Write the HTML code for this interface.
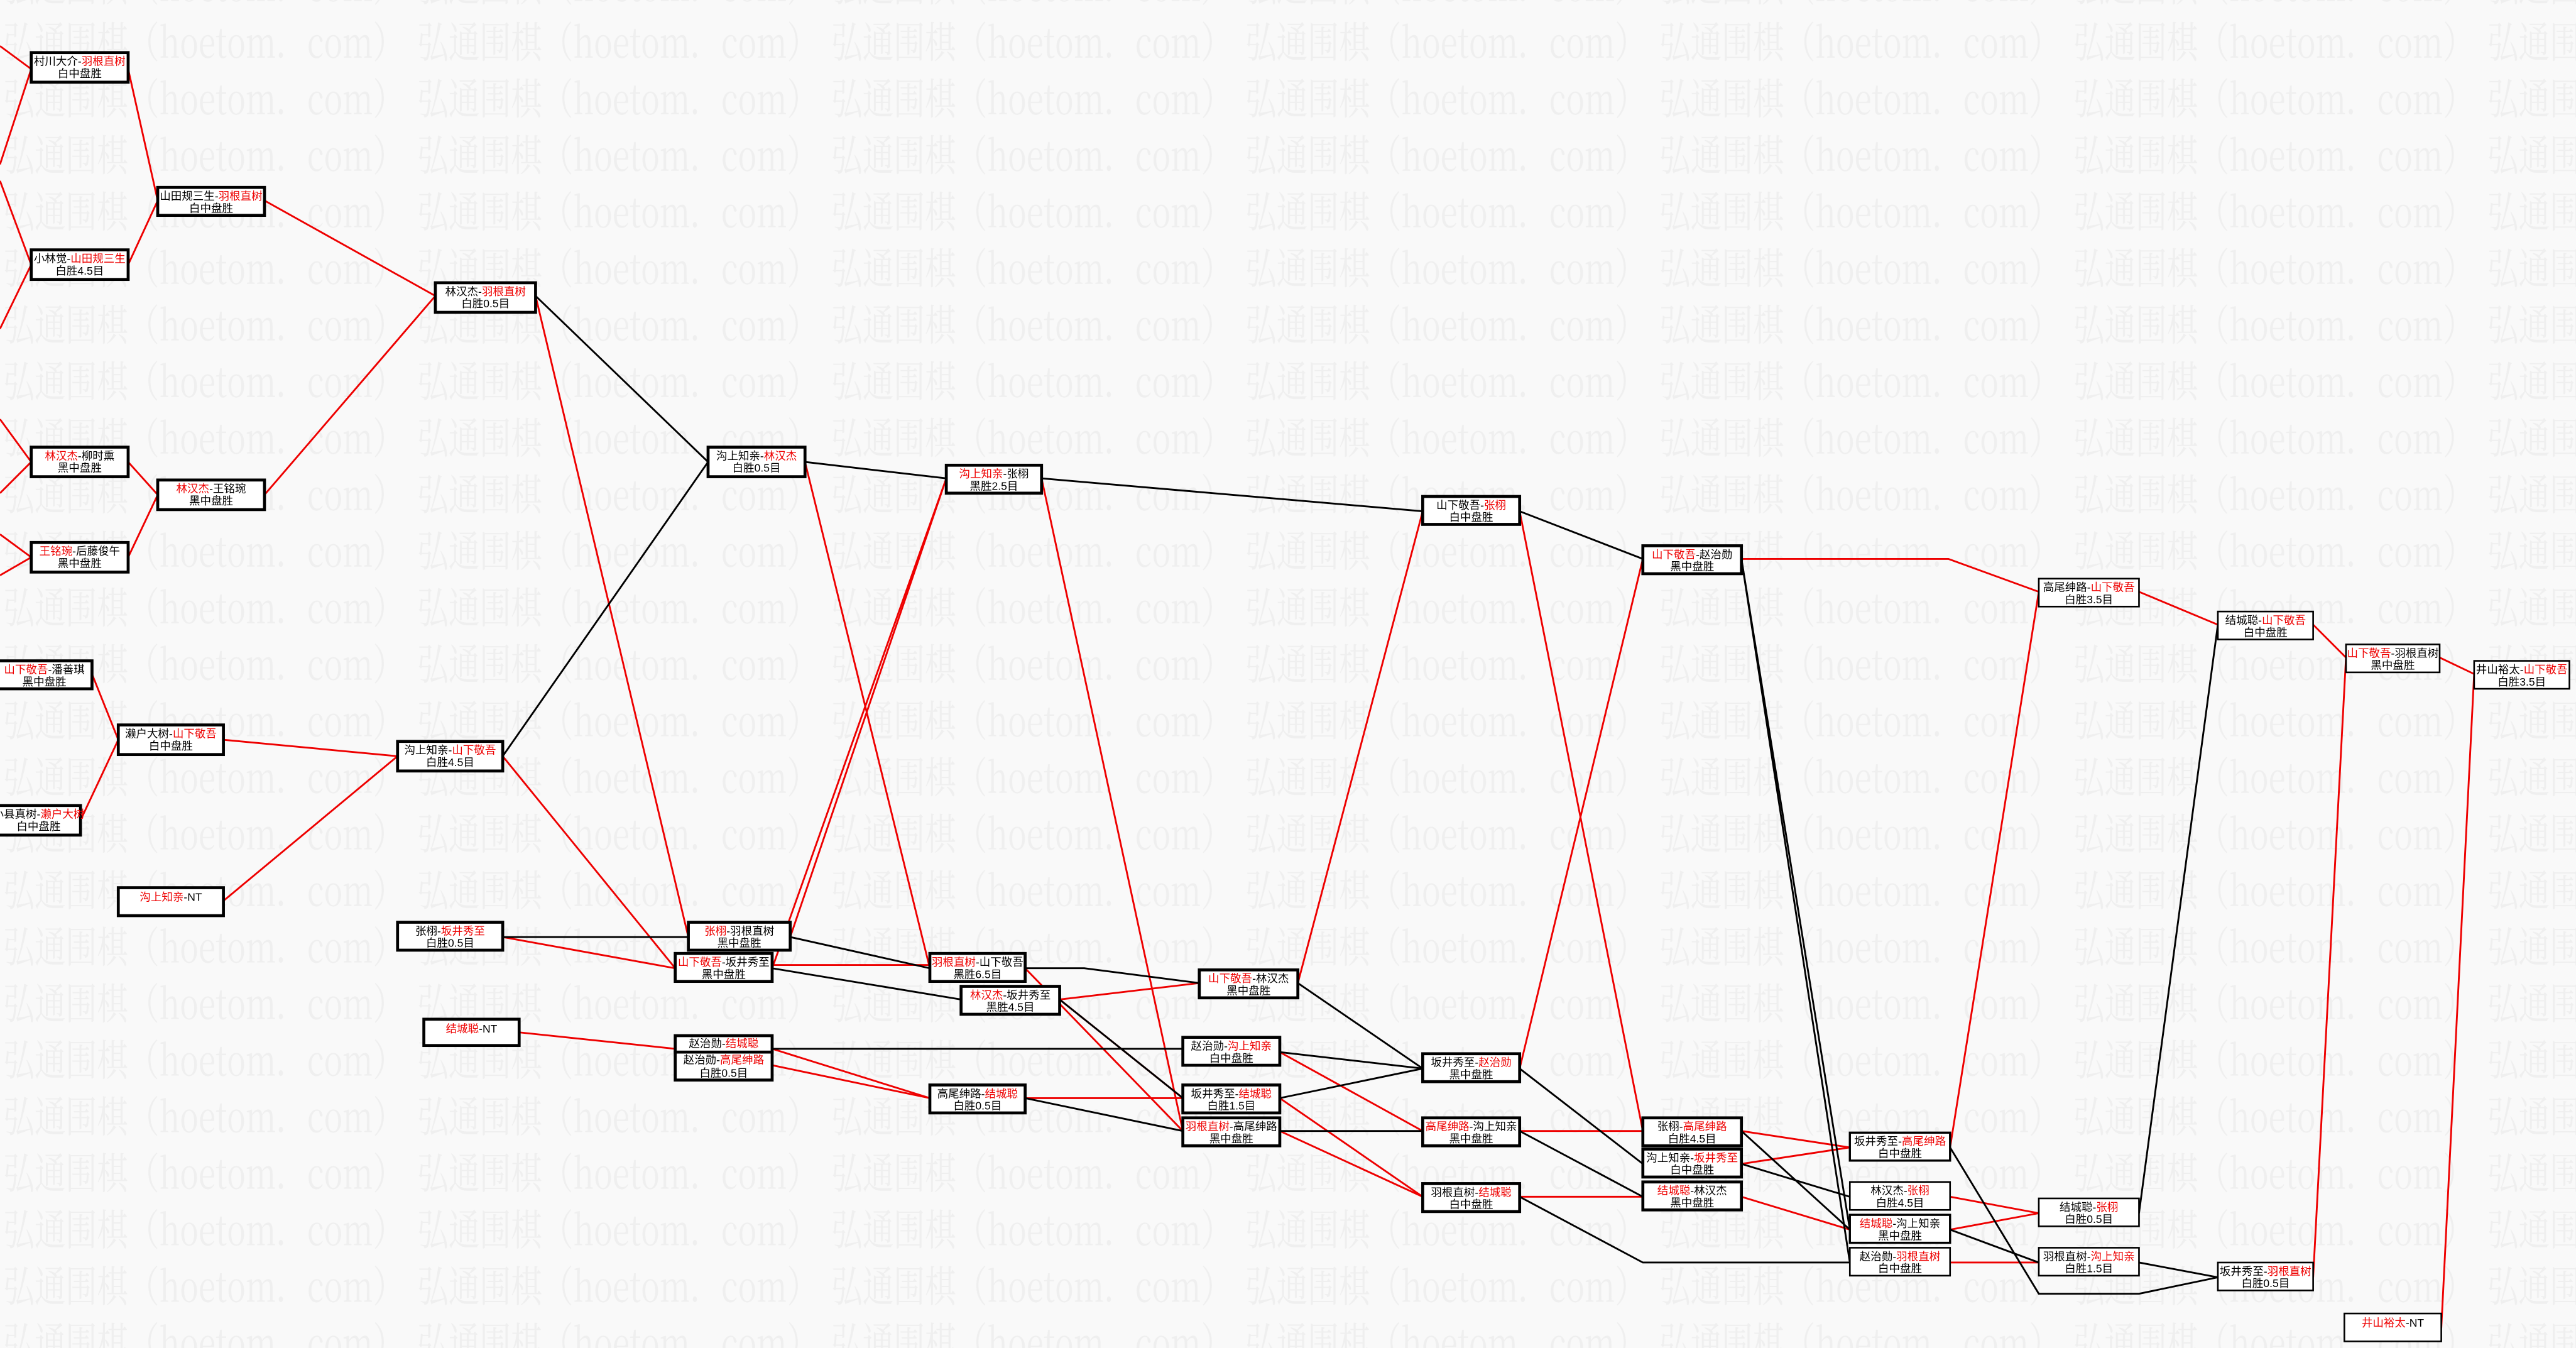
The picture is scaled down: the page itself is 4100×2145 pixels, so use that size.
<!DOCTYPE html>
<html><head><meta charset="utf-8"><style>
html,body{margin:0;padding:0;background:#f9f9f9;}
svg{display:block}
.b rect{fill:#fff;stroke:#000;stroke-width:1.8}
.t{font-family:"Liberation Sans","Noto Sans CJK SC",sans-serif;font-size:6.7px;text-anchor:middle;fill:#000}
.r{fill:#e00}
.k line,.k polyline{stroke:#000;stroke-width:1.1;fill:none}
.d line,.d polyline{stroke:#e00;stroke-width:1.1;fill:none}
.w{font-family:"Noto Serif CJK SC","Noto Sans CJK SC",serif;font-size:26px;fill:#efefef}
</style></head><body>
<svg width="4100" height="2145" viewBox="0 0 1568 820" preserveAspectRatio="none" xmlns="http://www.w3.org/2000/svg">
<defs>
<pattern id="wm" patternUnits="userSpaceOnUse" x="0" y="7" width="252" height="34.4">
<text class="w" x="2" y="28" textLength="244" lengthAdjust="spacingAndGlyphs">弘通围棋（hoetom．com）</text>
</pattern>
</defs>
<rect width="1568" height="820" fill="#f9f9f9"/>
<rect width="1568" height="820" fill="url(#wm)"/>
<g class="d">
<line x1="0" y1="28" x2="19" y2="42"/><line x1="0" y1="100" x2="19" y2="42"/>
<line x1="0" y1="110" x2="19" y2="161"/><line x1="0" y1="200" x2="19" y2="161"/>
<line x1="78" y1="42" x2="96" y2="122"/><line x1="78" y1="161" x2="96" y2="122"/>
<line x1="161" y1="122" x2="265" y2="180"/>
<line x1="0" y1="255" x2="19" y2="281"/><line x1="0" y1="300" x2="19" y2="281"/>
<line x1="0" y1="325" x2="19" y2="339"/><line x1="0" y1="350" x2="19" y2="339"/>
<line x1="78" y1="281" x2="96" y2="301"/><line x1="78" y1="339" x2="96" y2="301"/>
<line x1="161" y1="301" x2="265" y2="180"/>
<line x1="56" y1="410" x2="72" y2="450"/><line x1="49" y1="499" x2="72" y2="450"/>
<line x1="136" y1="450" x2="242" y2="460"/><line x1="136" y1="548" x2="242" y2="460"/>
<line x1="326" y1="180" x2="419" y2="570"/>
<line x1="306" y1="460" x2="411" y2="589"/>
<line x1="306" y1="570" x2="411" y2="589"/>
<line x1="481" y1="570" x2="576" y2="291"/>
<line x1="470" y1="589" x2="576" y2="291"/>
<line x1="490" y1="281" x2="566" y2="589"/>
<line x1="470" y1="587" x2="566" y2="587"/>
<line x1="634" y1="291" x2="720" y2="688"/>
<line x1="645" y1="608" x2="730" y2="598"/>
<line x1="645" y1="608" x2="720" y2="668"/><line x1="624" y1="589" x2="720" y2="688"/>
<line x1="316" y1="628" x2="411" y2="638"/>
<line x1="411" y1="636" x2="470" y2="648"/>
<line x1="470" y1="638" x2="566" y2="668"/><line x1="470" y1="648" x2="566" y2="668"/>
<line x1="624" y1="668" x2="720" y2="668"/>
<line x1="790" y1="598" x2="866" y2="311"/>
<line x1="779" y1="640" x2="866" y2="688"/>
<line x1="779" y1="668" x2="866" y2="728"/>
<line x1="779" y1="688" x2="866" y2="728"/>
<line x1="925" y1="311" x2="1000" y2="688"/>
<line x1="925" y1="650" x2="1000" y2="340"/>
<line x1="925" y1="688" x2="1000" y2="688"/>
<line x1="925" y1="728" x2="1000" y2="728"/>
<polyline points="1060,340 1186,340 1241,360"/>
<line x1="1060" y1="688" x2="1126" y2="698"/>
<line x1="1060" y1="708" x2="1126" y2="698"/>
<line x1="1060" y1="728" x2="1126" y2="748"/>
<line x1="1187" y1="698" x2="1241" y2="360"/>
<line x1="1187" y1="728" x2="1241" y2="738"/><line x1="1187" y1="748" x2="1241" y2="738"/>
<line x1="1187" y1="768" x2="1241" y2="768"/>
<line x1="1302" y1="360" x2="1350" y2="380"/>
<line x1="1408" y1="380" x2="1428" y2="400"/><line x1="1408" y1="777" x2="1428" y2="400"/>
<line x1="1485" y1="400" x2="1506" y2="410"/><line x1="1486" y1="808" x2="1506" y2="410"/>
</g>
<g class="k">
<line x1="326" y1="180" x2="431" y2="281"/>
<line x1="306" y1="460" x2="431" y2="281"/>
<line x1="306" y1="570" x2="419" y2="570"/>
<line x1="490" y1="281" x2="576" y2="291"/>
<line x1="481" y1="570" x2="566" y2="589"/>
<line x1="470" y1="589" x2="585" y2="608"/>
<line x1="634" y1="291" x2="866" y2="311"/>
<polyline points="624,589 660,589 730,598"/>
<line x1="470" y1="638" x2="720" y2="638"/>
<line x1="624" y1="668" x2="720" y2="688"/>
<line x1="645" y1="608" x2="720" y2="668"/>
<line x1="790" y1="598" x2="866" y2="650"/>
<line x1="779" y1="640" x2="866" y2="650"/>
<line x1="779" y1="668" x2="866" y2="650"/>
<line x1="779" y1="688" x2="866" y2="688"/>
<line x1="925" y1="311" x2="1000" y2="340"/>
<line x1="925" y1="650" x2="1000" y2="708"/>
<line x1="925" y1="688" x2="1000" y2="728"/>
<polyline points="925,728 1000,768 1126,768"/>
<line x1="1060" y1="340" x2="1126" y2="748"/>
<line x1="1060" y1="340" x2="1126" y2="768"/>
<line x1="1060" y1="688" x2="1126" y2="748"/>
<line x1="1060" y1="708" x2="1126" y2="728"/>
<polyline points="1187,698 1241,787 1302,787 1350,777"/>
<line x1="1187" y1="748" x2="1241" y2="768"/>
<line x1="1302" y1="738" x2="1350" y2="380"/>
<line x1="1302" y1="768" x2="1350" y2="777"/>
</g>
<g class="b">
<g transform="translate(19,32)"><rect width="59" height="18"/><text class="t" x="29.5" y="7.6">村川大介-<tspan class="r">羽根直树</tspan></text><text class="t" x="29.5" y="15">白中盘胜</text></g>
<g transform="translate(96,114)"><rect width="65" height="17"/><text class="t" x="32.5" y="7.6">山田规三生-<tspan class="r">羽根直树</tspan></text><text class="t" x="32.5" y="15">白中盘胜</text></g>
<g transform="translate(19,152)"><rect width="59" height="18"/><text class="t" x="29.5" y="7.6">小林觉-<tspan class="r">山田规三生</tspan></text><text class="t" x="29.5" y="15">白胜4.5目</text></g>
<g transform="translate(265,172)"><rect width="61" height="18"/><text class="t" x="30.5" y="7.6">林汉杰-<tspan class="r">羽根直树</tspan></text><text class="t" x="30.5" y="15">白胜0.5目</text></g>
<g transform="translate(19,272)"><rect width="59" height="18"/><text class="t" x="29.5" y="7.6"><tspan class="r">林汉杰</tspan>-柳时熏</text><text class="t" x="29.5" y="15">黑中盘胜</text></g>
<g transform="translate(96,292)"><rect width="65" height="18"/><text class="t" x="32.5" y="7.6"><tspan class="r">林汉杰</tspan>-王铭琬</text><text class="t" x="32.5" y="15">黑中盘胜</text></g>
<g transform="translate(19,330)"><rect width="59" height="18"/><text class="t" x="29.5" y="7.6"><tspan class="r">王铭琬</tspan>-后藤俊午</text><text class="t" x="29.5" y="15">黑中盘胜</text></g>
<g transform="translate(-2,402)"><rect width="58" height="17"/><text class="t" x="29" y="7.6"><tspan class="r">山下敬吾</tspan>-潘善琪</text><text class="t" x="29" y="15">黑中盘胜</text></g>
<g transform="translate(72,441)"><rect width="64" height="18"/><text class="t" x="32" y="7.6">濑户大树-<tspan class="r">山下敬吾</tspan></text><text class="t" x="32" y="15">白中盘胜</text></g>
<g transform="translate(-2,490)"><rect width="51" height="18"/><text class="t" x="25.5" y="7.6">小县真树-<tspan class="r">濑户大树</tspan></text><text class="t" x="25.5" y="15">白中盘胜</text></g>
<g transform="translate(72,540)"><rect width="64" height="17"/><text class="t" x="32" y="8"><tspan class="r">沟上知亲</tspan>-NT</text></g>
<g transform="translate(242,451)"><rect width="64" height="18"/><text class="t" x="32" y="7.6">沟上知亲-<tspan class="r">山下敬吾</tspan></text><text class="t" x="32" y="15">白胜4.5目</text></g>
<g transform="translate(431,272)"><rect width="59" height="18"/><text class="t" x="29.5" y="7.6">沟上知亲-<tspan class="r">林汉杰</tspan></text><text class="t" x="29.5" y="15">白胜0.5目</text></g>
<g transform="translate(576,283)"><rect width="58" height="17"/><text class="t" x="29" y="7.6"><tspan class="r">沟上知亲</tspan>-张栩</text><text class="t" x="29" y="15">黑胜2.5目</text></g>
<g transform="translate(866,302)"><rect width="59" height="17"/><text class="t" x="29.5" y="7.6">山下敬吾-<tspan class="r">张栩</tspan></text><text class="t" x="29.5" y="15">白中盘胜</text></g>
<g transform="translate(1000,332)"><rect width="60" height="17"/><text class="t" x="30" y="7.6"><tspan class="r">山下敬吾</tspan>-赵治勋</text><text class="t" x="30" y="15">黑中盘胜</text></g>
<g transform="translate(1241,352)"><rect width="61" height="17" style="stroke-width:1"/><text class="t" x="30.5" y="7.6">高尾绅路-<tspan class="r">山下敬吾</tspan></text><text class="t" x="30.5" y="15">白胜3.5目</text></g>
<g transform="translate(1350,372)"><rect width="58" height="17" style="stroke-width:1"/><text class="t" x="29" y="7.6">结城聪-<tspan class="r">山下敬吾</tspan></text><text class="t" x="29" y="15">白中盘胜</text></g>
<g transform="translate(1428,392)"><rect width="57" height="17" style="stroke-width:1"/><text class="t" x="28.5" y="7.6"><tspan class="r">山下敬吾</tspan>-羽根直树</text><text class="t" x="28.5" y="15">黑中盘胜</text></g>
<g transform="translate(1506,402)"><rect width="58" height="17" style="stroke-width:1"/><text class="t" x="29" y="7.6">井山裕太-<tspan class="r">山下敬吾</tspan></text><text class="t" x="29" y="15">白胜3.5目</text></g>
<g transform="translate(242,561)"><rect width="64" height="17"/><text class="t" x="32" y="7.6">张栩-<tspan class="r">坂井秀至</tspan></text><text class="t" x="32" y="15">白胜0.5目</text></g>
<g transform="translate(419,561)"><rect width="62" height="17"/><text class="t" x="31" y="7.6"><tspan class="r">张栩</tspan>-羽根直树</text><text class="t" x="31" y="15">黑中盘胜</text></g>
<g transform="translate(411,580)"><rect width="59" height="17"/><text class="t" x="29.5" y="7.6"><tspan class="r">山下敬吾</tspan>-坂井秀至</text><text class="t" x="29.5" y="15">黑中盘胜</text></g>
<g transform="translate(566,580)"><rect width="58" height="17"/><text class="t" x="29" y="7.6"><tspan class="r">羽根直树</tspan>-山下敬吾</text><text class="t" x="29" y="15">黑胜6.5目</text></g>
<g transform="translate(585,600)"><rect width="60" height="17"/><text class="t" x="30" y="7.6"><tspan class="r">林汉杰</tspan>-坂井秀至</text><text class="t" x="30" y="15">黑胜4.5目</text></g>
<g transform="translate(730,590)"><rect width="60" height="17"/><text class="t" x="30" y="7.6"><tspan class="r">山下敬吾</tspan>-林汉杰</text><text class="t" x="30" y="15">黑中盘胜</text></g>
<g transform="translate(258,620)"><rect width="58" height="16"/><text class="t" x="29" y="8"><tspan class="r">结城聪</tspan>-NT</text></g>
<g transform="translate(411,640)"><rect width="59" height="17"/><text class="t" x="29.5" y="7">赵治勋-<tspan class="r">高尾绅路</tspan></text><text class="t" x="29.5" y="15">白胜0.5目</text></g>
<g transform="translate(411,630)"><rect width="59" height="10" style="fill:#fff"/><text class="t" x="29.5" y="7">赵治勋-<tspan class="r">结城聪</tspan></text></g>
<g transform="translate(566,660)"><rect width="58" height="17"/><text class="t" x="29" y="7.6">高尾绅路-<tspan class="r">结城聪</tspan></text><text class="t" x="29" y="15">白胜0.5目</text></g>
<g transform="translate(720,631)"><rect width="59" height="17"/><text class="t" x="29.5" y="7.6">赵治勋-<tspan class="r">沟上知亲</tspan></text><text class="t" x="29.5" y="15">白中盘胜</text></g>
<g transform="translate(720,660)"><rect width="59" height="17"/><text class="t" x="29.5" y="7.6">坂井秀至-<tspan class="r">结城聪</tspan></text><text class="t" x="29.5" y="15">白胜1.5目</text></g>
<g transform="translate(720,680)"><rect width="59" height="17"/><text class="t" x="29.5" y="7.6"><tspan class="r">羽根直树</tspan>-高尾绅路</text><text class="t" x="29.5" y="15">黑中盘胜</text></g>
<g transform="translate(866,641)"><rect width="59" height="17"/><text class="t" x="29.5" y="7.6">坂井秀至-<tspan class="r">赵治勋</tspan></text><text class="t" x="29.5" y="15">黑中盘胜</text></g>
<g transform="translate(866,680)"><rect width="59" height="17"/><text class="t" x="29.5" y="7.6"><tspan class="r">高尾绅路</tspan>-沟上知亲</text><text class="t" x="29.5" y="15">黑中盘胜</text></g>
<g transform="translate(866,720)"><rect width="59" height="17"/><text class="t" x="29.5" y="7.6">羽根直树-<tspan class="r">结城聪</tspan></text><text class="t" x="29.5" y="15">白中盘胜</text></g>
<g transform="translate(1000,680)"><rect width="60" height="17"/><text class="t" x="30" y="7.6">张栩-<tspan class="r">高尾绅路</tspan></text><text class="t" x="30" y="15">白胜4.5目</text></g>
<g transform="translate(1000,699)"><rect width="60" height="17"/><text class="t" x="30" y="7.6">沟上知亲-<tspan class="r">坂井秀至</tspan></text><text class="t" x="30" y="15">白中盘胜</text></g>
<g transform="translate(1000,719)"><rect width="60" height="17"/><text class="t" x="30" y="7.6"><tspan class="r">结城聪</tspan>-林汉杰</text><text class="t" x="30" y="15">黑中盘胜</text></g>
<g transform="translate(1126,689)"><rect width="61" height="17" style="stroke-width:1.3"/><text class="t" x="30.5" y="7.6">坂井秀至-<tspan class="r">高尾绅路</tspan></text><text class="t" x="30.5" y="15">白中盘胜</text></g>
<g transform="translate(1126,719)"><rect width="61" height="17" style="stroke-width:1"/><text class="t" x="30.5" y="7.6">林汉杰-<tspan class="r">张栩</tspan></text><text class="t" x="30.5" y="15">白胜4.5目</text></g>
<g transform="translate(1126,739)"><rect width="61" height="17" style="stroke-width:1.3"/><text class="t" x="30.5" y="7.6"><tspan class="r">结城聪</tspan>-沟上知亲</text><text class="t" x="30.5" y="15">黑中盘胜</text></g>
<g transform="translate(1126,759)"><rect width="61" height="17" style="stroke-width:1"/><text class="t" x="30.5" y="7.6">赵治勋-<tspan class="r">羽根直树</tspan></text><text class="t" x="30.5" y="15">白中盘胜</text></g>
<g transform="translate(1241,729)"><rect width="61" height="17" style="stroke-width:1"/><text class="t" x="30.5" y="7.6">结城聪-<tspan class="r">张栩</tspan></text><text class="t" x="30.5" y="15">白胜0.5目</text></g>
<g transform="translate(1241,759)"><rect width="61" height="17" style="stroke-width:1"/><text class="t" x="30.5" y="7.6">羽根直树-<tspan class="r">沟上知亲</tspan></text><text class="t" x="30.5" y="15">白胜1.5目</text></g>
<g transform="translate(1350,768)"><rect width="58" height="17" style="stroke-width:1"/><text class="t" x="29" y="7.6">坂井秀至-<tspan class="r">羽根直树</tspan></text><text class="t" x="29" y="15">白胜0.5目</text></g>
<g transform="translate(1427,799)"><rect width="59" height="17" style="stroke-width:1"/><text class="t" x="29.5" y="8"><tspan class="r">井山裕太</tspan>-NT</text></g>
</g>
</svg>
</body></html>
